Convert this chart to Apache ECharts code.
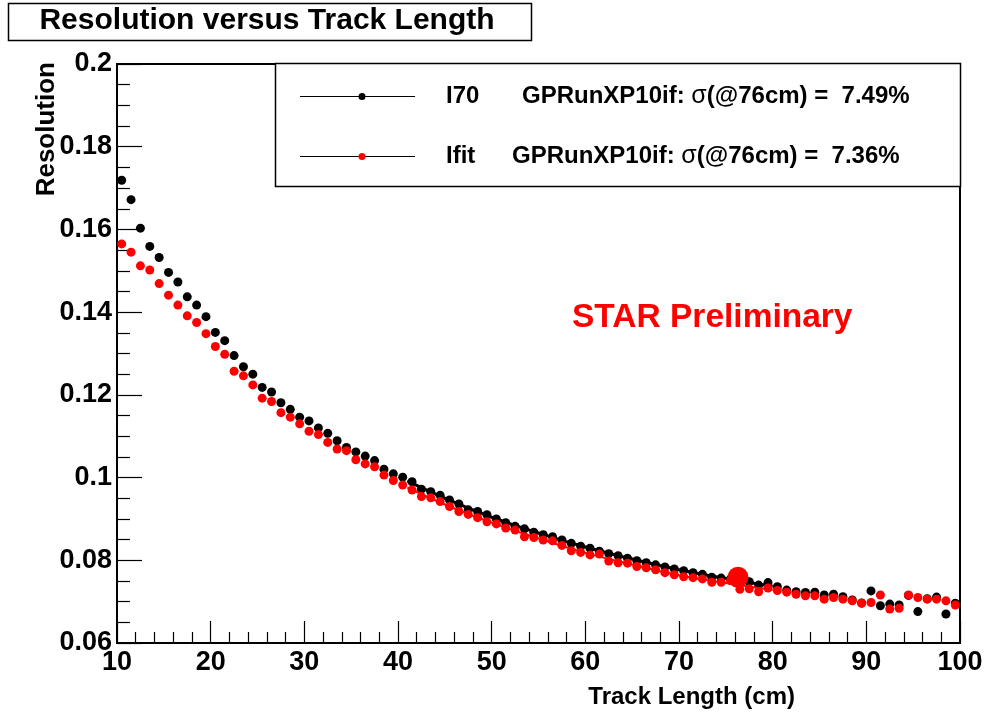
<!DOCTYPE html>
<html>
<head>
<meta charset="utf-8">
<script src="https://cdn.jsdelivr.net/npm/echarts@6/dist/echarts.min.js"></script>
<style>html,body{margin:0;padding:0;background:#fff;}#c{width:987px;height:718px;}</style>
</head>
<body>
<div id="c"></div>
<script>
// ---- data ----
const trackLength = [10.5,11.5,12.5,13.5,14.5,15.5,16.5,17.5,18.5,19.5,20.5,21.5,22.5,23.5,24.5,25.5,26.5,27.5,28.5,29.5,
30.5,31.5,32.5,33.5,34.5,35.5,36.5,37.5,38.5,39.5,40.5,41.5,42.5,43.5,44.5,45.5,46.5,47.5,48.5,49.5,
50.5,51.5,52.5,53.5,54.5,55.5,56.5,57.5,58.5,59.5,60.5,61.5,62.5,63.5,64.5,65.5,66.5,67.5,68.5,69.5,
70.5,71.5,72.5,73.5,74.5,75.5,76.5,77.5,78.5,79.5,80.5,81.5,82.5,83.5,84.5,85.5,86.5,87.5,88.5,89.5,
90.5,91.5,92.5,93.5,94.5,95.5,96.5,97.5,98.5,99.5];
const resI70 = [0.1719,0.1672,0.1603,0.1559,0.1532,0.1496,0.1473,0.1437,0.1417,0.1389,0.1351,0.1331,0.1295,0.1268,0.1250,0.1218,0.1207,0.1181,0.1165,0.1146,
0.1137,0.1120,0.1107,0.1089,0.1073,0.1062,0.1052,0.1041,0.1020,0.1009,0.1001,0.0990,0.0972,0.0966,0.0957,0.0946,0.0936,0.0922,0.0918,0.0910,
0.0900,0.0891,0.0882,0.0876,0.0868,0.0862,0.0857,0.0849,0.0841,0.0834,0.0829,0.0822,0.0816,0.0811,0.0805,0.0799,0.0794,0.0789,0.0784,0.0779,
0.0775,0.0770,0.0766,0.0759,0.0757,0.0755,0.0751,0.0748,0.0740,0.0746,0.0736,0.0728,0.0724,0.0722,0.0723,0.0716,0.0718,0.0712,0.0704,0.0697,
0.0726,0.0690,0.0694,0.0692,0.0715,0.0676,0.0707,0.0711,0.0670,0.0696];
const resIfit = [0.1565,0.1545,0.1512,0.1502,0.1469,0.1441,0.1417,0.1391,0.1375,0.1348,0.1317,0.1298,0.1257,0.1246,0.1224,0.1192,0.1184,0.1157,0.1146,0.1130,
0.1112,0.1104,0.1085,0.1069,0.1065,0.1043,0.1033,0.1026,0.1006,0.0993,0.0982,0.0970,0.0954,0.0951,0.0942,0.0930,0.0918,0.0911,0.0903,0.0893,
0.0888,0.0878,0.0873,0.0857,0.0855,0.0849,0.0847,0.0836,0.0823,0.0819,0.0813,0.0815,0.0798,0.0794,0.0793,0.0785,0.0782,0.0777,0.0770,0.0765,
0.0760,0.0758,0.0755,0.0747,0.0747,0.0751,0.0730,0.0731,0.0724,0.0733,0.0727,0.0723,0.0718,0.0714,0.0714,0.0706,0.0710,0.0706,0.0702,0.0696,
0.0698,0.0716,0.0682,0.0684,0.0716,0.0710,0.0706,0.0706,0.0702,0.0692];
// fitted curves over 40-80 cm
const fitX     = [41, 45, 50, 55, 60, 65, 70, 75, 80];
const fitI70   = [0.0992, 0.0950, 0.0904, 0.0866, 0.0832, 0.0803, 0.0777, 0.0756, 0.0737];
const fitIfit  = [0.0976, 0.0935, 0.0891, 0.0853, 0.0818, 0.0790, 0.0764, 0.0745, 0.0728];
const sigmaPoint = [[76.3, 0.0759]];
const xTicks = {min: 10, max: 100, step: 10};
const yTicks = {min: 0.06, max: 0.2, step: 0.02};
const legendLabels = ['I70', 'Ifit'];
const legendRuns = ['GPRunXP10if:', 'GPRunXP10if:'];
const legendSigma = ['(@76cm) =  7.49%', '(@76cm) =  7.36%'];

// ---- fonts ----
const REG = '"Liberation Sans", Arial, Helvetica, sans-serif';
const legSize = 24;

const chart = echarts.init(document.getElementById('c'), null, {renderer:'canvas'});
const pair = (xs, ys) => xs.map((x,i)=>[x, ys[i]]);

const legendRows = [96, 156];
const legendColors = ['#000000', '#ff0000'];
const graphics = [];
// title box
graphics.push({type:'rect', shape:{x:8.5,y:3.5,width:523,height:37}, style:{fill:'#fff',stroke:'#000',lineWidth:1.5}, z:100});
graphics.push({type:'text', x:267, y:21, style:{text:'Resolution versus Track Length', font:'bold 30px '+REG, fill:'#000', align:'center', verticalAlign:'middle'}, z:101});
// legend box
graphics.push({type:'rect', shape:{x:275.5,y:63.5,width:685,height:123}, style:{fill:'#fff',stroke:'#000',lineWidth:1.5}, z:100});
const labelX = [446, 446], runX = [522, 512];
legendRows.forEach((y,i)=>{
  graphics.push({type:'line', shape:{x1:300,y1:y+0.5,x2:415,y2:y+0.5}, style:{stroke:'#000',lineWidth:1}, z:101});
  graphics.push({type:'circle', shape:{cx:362,cy:y+0.5,r:3.5}, style:{fill:legendColors[i]}, z:102});
  graphics.push({type:'text', x:labelX[i], y:y, style:{text:legendLabels[i], font:'bold '+legSize+'px '+REG, fill:'#000', verticalAlign:'middle'}, z:101});
  graphics.push({type:'text', x:runX[i], y:y, style:{text:'{b|'+legendRuns[i]+' }{s|σ}{b|'+legendSigma[i]+'}', verticalAlign:'middle',
    rich:{s:{fontFamily:REG, fontSize:legSize+1, fontWeight:'normal', color:'#000'}, b:{fontFamily:REG, fontSize:legSize, fontWeight:'bold', color:'#000'}}}, z:101});
});
// STAR Preliminary
graphics.push({type:'text', x:572, y:318, style:{text:'STAR Preliminary', font:'bold 33.5px '+REG, fill:'#ff0000', verticalAlign:'middle'}, z:90});
// axis titles
graphics.push({type:'text', x:47, y:62, rotation:Math.PI/2, style:{text:'Resolution', font:'bold 26px '+REG, fill:'#000', align:'right', verticalAlign:'middle'}, z:90});
graphics.push({type:'text', x:795, y:697, style:{text:'Track Length (cm)', font:'bold 24px '+REG, fill:'#000', align:'right', verticalAlign:'middle'}, z:90});

chart.setOption({
  animation:false,
  backgroundColor:'#fff',
  grid:{left:117, right:27, top:64, bottom:75, show:true, borderColor:'#000', borderWidth:2, backgroundColor:'transparent'},
  xAxis:{type:'value', min:xTicks.min, max:xTicks.max, interval:xTicks.step,
    axisLine:{show:true, onZero:false, lineStyle:{color:'#000', width:2}},
    axisTick:{show:true, inside:true, length:22, lineStyle:{color:'#000', width:1.2}},
    minorTick:{show:true, splitNumber:5, length:11, lineStyle:{color:'#000', width:1.2}},
    splitLine:{show:false},
    axisLabel:{color:'#000', fontFamily:REG, fontWeight:'bold', fontSize:27, margin:6, showMinLabel:true, showMaxLabel:true}},
  yAxis:{type:'value', min:yTicks.min, max:yTicks.max, interval:yTicks.step,
    axisLine:{show:true, onZero:false, lineStyle:{color:'#000', width:2}},
    axisTick:{show:true, inside:true, length:25, lineStyle:{color:'#000', width:1.2}},
    minorTick:{show:true, splitNumber:4, length:13, lineStyle:{color:'#000', width:1.2}},
    splitLine:{show:false},
    axisLabel:{color:'#000', fontFamily:REG, fontWeight:'bold', fontSize:27, margin:5,
      formatter:v=>String(+v.toFixed(3))}},
  graphic:graphics,
  series:[
    {type:'scatter', name:'I70', data:pair(trackLength,resI70), symbol:'circle', symbolSize:9, itemStyle:{color:'#000', opacity:1}, z:3},
    {type:'line', data:pair(fitX,fitI70), smooth:true, showSymbol:false, lineStyle:{color:'#000', width:3}, z:4},
    {type:'line', data:pair(fitX,fitIfit), smooth:true, showSymbol:false, lineStyle:{color:'#ff0000', width:2}, z:5},
    {type:'scatter', name:'Ifit', data:pair(trackLength,resIfit), symbol:'circle', symbolSize:9, itemStyle:{color:'#ff0000', opacity:1}, z:6},
    {type:'scatter', data:sigmaPoint, symbol:'circle', symbolSize:21, itemStyle:{color:'#ff0000', opacity:1}, z:7}
  ]
});
</script>
</body>
</html>
